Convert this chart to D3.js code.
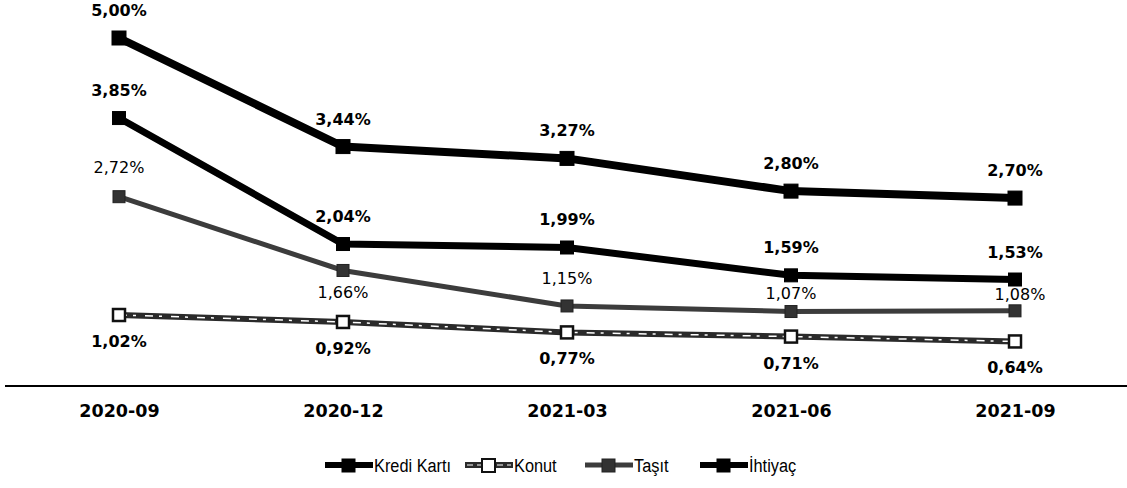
<!DOCTYPE html>
<html><head><meta charset="utf-8">
<script src="https://cdn.jsdelivr.net/npm/d3@7"></script>
<style>body{margin:0;background:#fff}svg{display:block}</style>
</head><body><svg id="c" width="1127" height="488"></svg>
<script>
const categories = ["2020-09","2020-12","2021-03","2021-06","2021-09"];
const krediKarti = [3.85,2.04,1.99,1.59,1.53];
const konut = [1.02,0.92,0.77,0.71,0.64];
const tasit = [2.72,1.66,1.15,1.07,1.08];
const ihtiyac = [5.00,3.44,3.27,2.80,2.70];
const seriesNames = ["Kredi Kartı","Konut","Taşıt","İhtiyaç"];

const W=1127,H=488;
const svg=d3.select("#c");
const x=d3.scalePoint().domain(categories).range([7,1127]).padding(0.5);
const y=d3.scaleLinear().domain([0,5]).range([386,38]);
const fmt=v=>v.toFixed(2).replace(".",",")+"%";

// axis
const ax=svg.append("g").attr("transform","translate(0,386)").call(d3.axisBottom(x).tickSize(0).tickPadding(19));
ax.select(".domain").attr("d","M5,0H1127").attr("stroke","#000").attr("stroke-width",2);
ax.selectAll("text").attr("font-family","DejaVu Sans").attr("font-weight","bold").attr("font-size",17.5).attr("fill","#000");

const styles={
 "Kredi Kartı":{data:krediKarti,stroke:"#000",w:7,ms:13,mfill:"#000",mstroke:"#000",labDy:-22,bold:true},
 "Konut":{data:konut,stroke:"#2a2a2a",w:6,ms:12,mfill:"#fff",mstroke:"#111",labDy:32,bold:true,inner:true},
 "Taşıt":{data:tasit,stroke:"#3c3c3c",w:5,ms:12,mfill:"#333",mstroke:"#222",labDy:[-24,28,-22,-13,-11],bold:false},
 "İhtiyaç":{data:ihtiyac,stroke:"#000",w:8,ms:14,mfill:"#000",mstroke:"#000",labDy:-22,bold:true}
};
const line=d3.line().x((d,i)=>x(categories[i])).y(d=>y(d));
["Konut","Taşıt","Kredi Kartı","İhtiyaç"].forEach(n=>{
 const s=styles[n];
 svg.append("path").attr("d",line(s.data)).attr("fill","none").attr("stroke",s.stroke).attr("stroke-width",s.w);
 if(s.inner) svg.append("path").attr("d",line(s.data)).attr("fill","none").attr("stroke","#fff").attr("stroke-width",1.5).attr("stroke-dasharray","8 6 3 9");
 svg.selectAll(null).data(s.data).enter().append("rect")
  .attr("x",(d,i)=>x(categories[i])-s.ms/2).attr("y",d=>y(d)-s.ms/2)
  .attr("width",s.ms).attr("height",s.ms).attr("fill",s.mfill).attr("stroke",s.mstroke).attr("stroke-width",s.inner?2.5:1);
 svg.selectAll(null).data(s.data).enter().append("text")
  .attr("x",(d,i)=>x(categories[i])+(n==="Taşıt"&&i===4?5:0))
  .attr("y",(d,i)=>y(d)+(Array.isArray(s.labDy)?s.labDy[i]:s.labDy))
  .attr("text-anchor","middle").attr("font-family","DejaVu Sans").attr("font-size",16)
  .attr("font-weight",s.bold?"bold":"normal").attr("fill","#000").text(fmt);
});

// legend
const legX=[325,465,585,700];
seriesNames.forEach((n,i)=>{
 const s=styles[n];
 const g=svg.append("g").attr("transform",`translate(${legX[i]},465)`);
 g.append("line").attr("x1",0).attr("x2",48).attr("y1",0).attr("y2",0).attr("stroke",s.stroke).attr("stroke-width",Math.min(s.w,6));
 if(s.inner) g.append("line").attr("x1",2).attr("x2",46).attr("stroke","#fff").attr("stroke-width",1.2).attr("stroke-dasharray","6 4");
 g.append("rect").attr("x",17).attr("y",-6).attr("width",13).attr("height",13).attr("fill",s.mfill).attr("stroke",s.mstroke).attr("stroke-width",s.inner?2:1);
 g.append("text").attr("transform","translate(49,7) scale(0.86,1)").attr("font-family","Liberation Sans").attr("font-size",19).attr("fill","#000").text(n);
});
</script></body></html>
